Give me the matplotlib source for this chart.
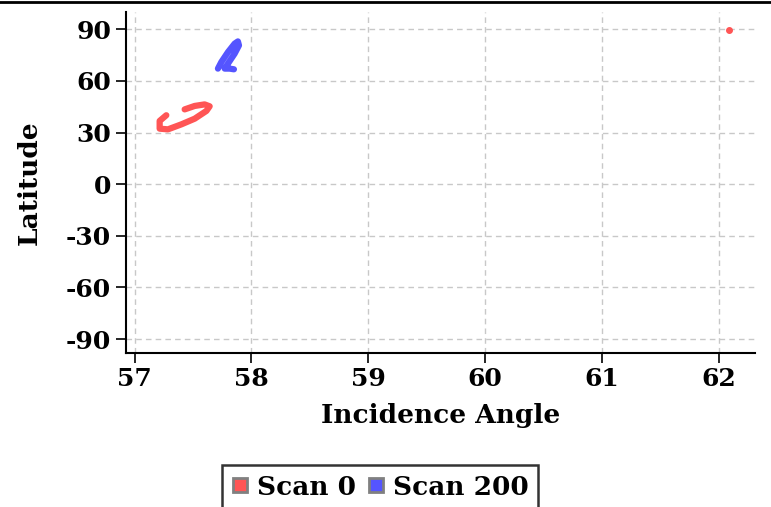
import matplotlib.pyplot as plt
from matplotlib.lines import Line2D

# Scan 0 track (incidence angle, latitude)
scan0_angle = [57.271, 57.214, 57.214, 57.285, 57.400, 57.514, 57.614, 57.642,
               57.599, 57.514, 57.428]
scan0_lat = [40.1, 36.8, 32.3, 31.9, 34.8, 38.1, 42.6, 45.3, 46.4, 45.5, 43.5]
# isolated Scan 0 point near the pole
scan0_pt_angle = [62.09]
scan0_pt_lat = [89.5]

# Scan 200 track
scan200_angle = [57.713, 57.742, 57.799, 57.856, 57.884, 57.893, 57.856,
                 57.799, 57.771, 57.813, 57.850]
scan200_lat = [67.2, 71.0, 76.8, 81.7, 83.0, 80.7, 75.9, 70.1, 67.2, 67.2, 66.8]

xticks = [57, 58, 59, 60, 61, 62]
yticks = [90, 60, 30, 0, -30, -60, -90]

red = "#FF5555"
blue = "#5555FF"

plt.rcParams['font.family'] = ['DejaVu Serif']
plt.rcParams['font.weight'] = 'bold'
plt.rcParams['axes.unicode_minus'] = False

fig = plt.figure(figsize=(7.71, 5.07), dpi=100)
ax = fig.add_axes([0.163, 0.304, 0.816, 0.672])

ax.plot(scan0_angle, scan0_lat, color=red, lw=4.5, solid_capstyle='round',
        solid_joinstyle='round')
ax.plot(scan0_pt_angle, scan0_pt_lat, 'o', color=red, ms=4)
ax.plot(scan200_angle, scan200_lat, color=blue, lw=4.5, solid_capstyle='round',
        solid_joinstyle='round')

ax.set_xlim(56.923, 62.31)
ax.set_ylim(-98, 100)
ax.set_xticks(xticks)
ax.set_yticks(yticks)
ax.tick_params(labelsize=18, length=7, width=1.2, direction='out')
for lab in ax.get_xticklabels() + ax.get_yticklabels():
    lab.set_fontweight('bold')
ax.grid(True, ls=(0, (4, 3)), color='#c8c8c8', lw=1)
ax.spines['top'].set_visible(False)
ax.spines['right'].set_visible(False)
ax.spines['left'].set_linewidth(1.5)
ax.spines['bottom'].set_linewidth(1.5)

ax.set_xlabel("Incidence Angle", fontsize=19, fontweight='bold', labelpad=8)
ax.set_ylabel("Latitude", fontsize=19, fontweight='bold')
ax.yaxis.set_label_coords(-0.133, 0.5)

handles = [Line2D([], [], ls='', marker='s', ms=10, markerfacecolor=red,
                  markeredgecolor='#808080', markeredgewidth=2),
           Line2D([], [], ls='', marker='s', ms=10, markerfacecolor=blue,
                  markeredgecolor='#808080', markeredgewidth=2)]
leg = fig.legend(handles, ["Scan 0", "Scan 200"], loc='upper center',
                 bbox_to_anchor=(0.493, 0.082), ncol=2, fontsize=19,
                 frameon=True, fancybox=False, handlelength=0.7,
                 handletextpad=0.3, columnspacing=0.4, borderpad=0.35,
                 borderaxespad=0)
leg.get_frame().set_edgecolor('black')
leg.get_frame().set_linewidth(1.8)
for t in leg.get_texts():
    t.set_fontweight('bold')

fig.add_artist(Line2D([0, 1], [0.997, 0.997], color='black', lw=2,
                      transform=fig.transFigure))

fig.savefig("out.png", dpi=100)
